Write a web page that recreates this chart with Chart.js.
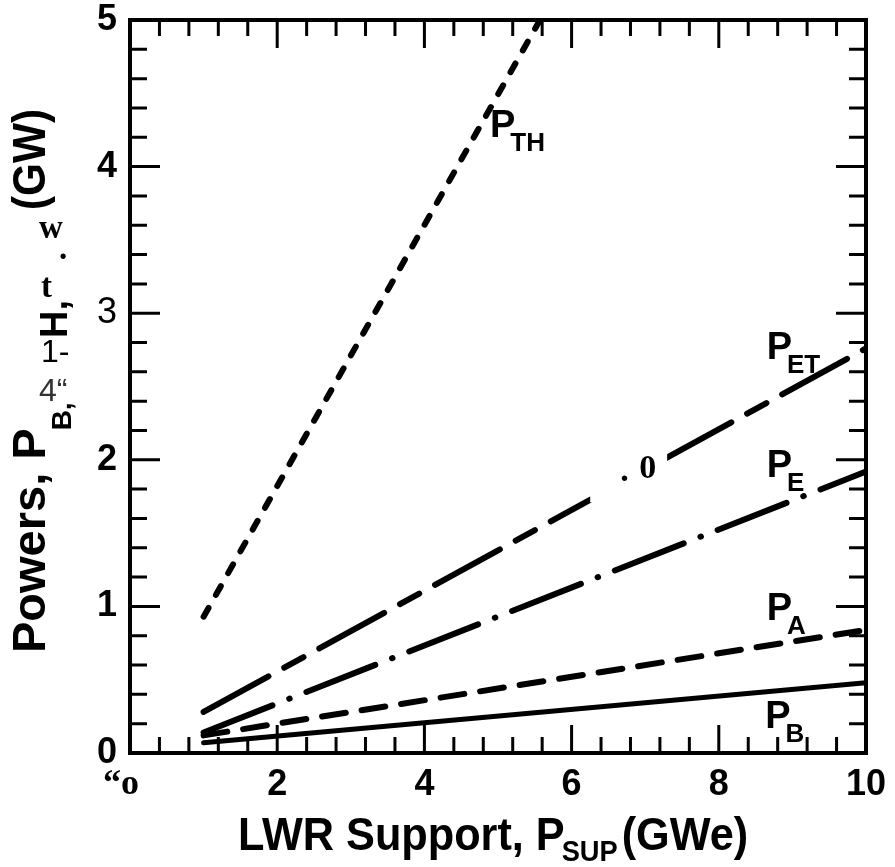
<!DOCTYPE html>
<html>
<head>
<meta charset="utf-8">
<script src="https://cdn.jsdelivr.net/npm/chart.js@4.4.1/dist/chart.umd.min.js"></script>
<style>
  html, body { margin: 0; padding: 0; background: #fff; }
  #wrap { width: 895px; height: 867px; position: relative; }
</style>
</head>
<body>
<div id="wrap"><canvas id="chart" width="895" height="867"></canvas></div>
<script>
// end points of each straight line (LWR support in GWe, power in GW)
const thX = [1.0, 5.57];
const thY = [0.93, 5.0];
const etX = [1.0, 10.0];
const etY = [0.28, 2.76];
const eX = [1.0, 10.0];
const eY = [0.14, 1.92];
const aX = [1.0, 10.0];
const aY = [0.12, 0.84];
const bX = [1.0, 10.0];
const bY = [0.07, 0.48];

const xTicks = [0, 2, 4, 6, 8, 10];
const yTicks = [0, 1, 2, 3, 4, 5];

// curve names, anchored in data units
const labelSubs = ['TH', 'ET', 'E', 'A', 'B'];
const labelX = [4.89, 8.65, 8.65, 8.65, 8.63];
const labelY = [4.2, 2.69, 1.88, 0.91, 0.17];

const SANS = '"Liberation Sans", Arial, Helvetica, sans-serif';
const SERIF = '"Liberation Serif", "Times New Roman", serif';

function pts(xs, ys) {
  return xs.map((x, i) => ({ x: x, y: ys[i] }));
}

function line(data, width, dash) {
  return {
    data: data,
    borderColor: '#000',
    borderWidth: width,
    borderDash: dash,
    borderCapStyle: 'round',
    pointRadius: 0,
    tension: 0,
    fill: false
  };
}

// draw text pieces one after another on a baseline
function run(ctx, x, y, parts) {
  parts.forEach(p => {
    ctx.font = p.font;
    const sx = p.sx || 1;
    ctx.save();
    ctx.translate(x, y + (p.dy || 0));
    ctx.scale(sx, 1);
    ctx.fillStyle = p.color || '#000';
    ctx.fillText(p.text, 0, 0);
    ctx.restore();
    x += ctx.measureText(p.text).width * sx + (p.gap || 0);
  });
  return x;
}

const frame = {
  id: 'frame',
  afterDatasetsDraw(chart) {
    const { ctx, chartArea: a, scales: { x, y } } = chart;
    ctx.save();
    ctx.strokeStyle = '#000';
    ctx.lineCap = 'butt';
    ctx.lineWidth = 3;
    ctx.beginPath();
    for (let i = 0; i <= 25; i++) {
      const px = x.getPixelForValue(i * 0.4);
      const len = i % 5 === 0 ? 28 : 16;
      ctx.moveTo(px, a.bottom); ctx.lineTo(px, a.bottom - len);
      ctx.moveTo(px, a.top); ctx.lineTo(px, a.top + len);
    }
    for (let i = 0; i <= 25; i++) {
      const py = y.getPixelForValue(i * 0.2);
      const len = i % 5 === 0 ? 30 : 17;
      ctx.moveTo(a.left, py); ctx.lineTo(a.left + len, py);
      ctx.moveTo(a.right, py); ctx.lineTo(a.right - len, py);
    }
    ctx.stroke();
    ctx.lineWidth = 4;
    ctx.strokeRect(a.left, a.top, a.right - a.left, a.bottom - a.top);

    // curve names
    ctx.textBaseline = 'alphabetic';
    ctx.textAlign = 'left';
    labelSubs.forEach((s, i) => {
      const px = x.getPixelForValue(labelX[i]);
      const py = y.getPixelForValue(labelY[i]);
      run(ctx, px, py, [
        { text: 'P', font: 'bold 38px ' + SANS, gap: -5 },
        { text: s, font: 'bold 26px ' + SANS, dy: 14 }
      ]);
    });

    // stray mark sitting on the P_ET line
    const ox = x.getPixelForValue(6.85), oy = y.getPixelForValue(1.88);
    ctx.fillStyle = '#fff';
    ctx.fillRect(ox - 44, oy - 37, 77, 62);
    ctx.fillStyle = '#000';
    ctx.font = 'bold 34px ' + SERIF;
    ctx.fillText('.', ox - 14, oy + 4);
    ctx.fillText('0', ox + 5, oy + 1);

    // x axis title
    run(ctx, 238, 850, [
      { text: 'LWR Support, P', font: 'bold 46px ' + SANS, sx: 0.94, gap: -3 },
      { text: 'SUP', font: 'bold 29px ' + SANS, sx: 0.94, dy: 11, gap: 4 },
      { text: '(GWe)', font: 'bold 46px ' + SANS, sx: 0.94 }
    ]);

    // y axis title, rotated
    ctx.save();
    ctx.translate(45, 653);
    ctx.rotate(-Math.PI / 2);
    run(ctx, 0, 0, [
      { text: 'Powers, P', font: 'bold 47px ' + SANS, gap: -2 },
      { text: 'B', font: 'bold 28px ' + SANS, dy: 26 },
      { text: ',', font: 'bold 28px ' + SANS, dy: 26 }
    ]);
    run(ctx, 653 - 338, 22, [
      { text: 'H,', font: 'bold 38px ' + SANS }
    ]);
    run(ctx, 653 - 210, 0, [
      { text: '(GW)', font: 'bold 47px ' + SANS, sx: 0.9 }
    ]);
    ctx.restore();

    // upright scraps inside the y title
    ctx.font = 'bold 33px ' + SERIF;
    ctx.fillText('w', 39, 238);
    ctx.fillText('.', 59, 259);
    ctx.fillText('t', 41, 297);
    ctx.font = '32px ' + SANS;
    ctx.fillText('1-', 41, 362);
    ctx.fillStyle = '#333';
    ctx.fillText('4\u201C', 39, 401);
    ctx.restore();
  }
};

const noPad = s => {
  s.paddingTop = 0; s.paddingBottom = 0; s.paddingLeft = 0; s.paddingRight = 0;
};

new Chart(document.getElementById('chart'), {
  type: 'line',
  data: {
    datasets: [
      line(pts(thX, thY), 6, [10, 15]),
      line(pts(etX, etY), 6, [74, 18, 22, 18]),
      line(pts(eX, eY), 6, [74, 18, 0.5, 18]),
      line(pts(aX, aY), 6, [24, 16]),
      line(pts(bX, bY), 5, [])
    ]
  },
  options: {
    responsive: false,
    animation: false,
    layout: { padding: { left: 90, top: 20, right: 29, bottom: 54 } },
    plugins: { legend: { display: false }, tooltip: { enabled: false } },
    scales: {
      x: {
        type: 'linear',
        min: 0,
        max: 10,
        afterBuildTicks: s => { s.ticks = xTicks.map(v => ({ value: v })); },
        afterFit: s => { s.height = 60; noPad(s); },
        grid: { display: false, drawTicks: false },
        border: { display: false },
        ticks: {
          autoSkip: false,
          maxRotation: 0,
          padding: 14,
          color: '#000',
          callback: v => v === 0 ? '\u201Co  ' : String(v),
          font: c => c.tick && c.tick.value === 0
            ? { family: SERIF, weight: 'bold', size: 36, lineHeight: 1 }
            : { family: SANS, weight: 'bold', size: 36, lineHeight: 1 }
        }
      },
      y: {
        type: 'linear',
        min: 0,
        max: 5,
        afterBuildTicks: s => { s.ticks = yTicks.map(v => ({ value: v })); },
        afterFit: s => { s.width = 40; noPad(s); },
        grid: { display: false, drawTicks: false },
        border: { display: false },
        ticks: {
          autoSkip: false,
          padding: 13,
          color: '#000',
          callback: v => String(v),
          font: c => c.tick && c.tick.value === 3
            ? { family: SANS, weight: 'normal', size: 36, lineHeight: 1 }
            : { family: SANS, weight: 'bold', size: 36, lineHeight: 1 }
        }
      }
    }
  },
  plugins: [frame]
});
</script>
</body>
</html>
